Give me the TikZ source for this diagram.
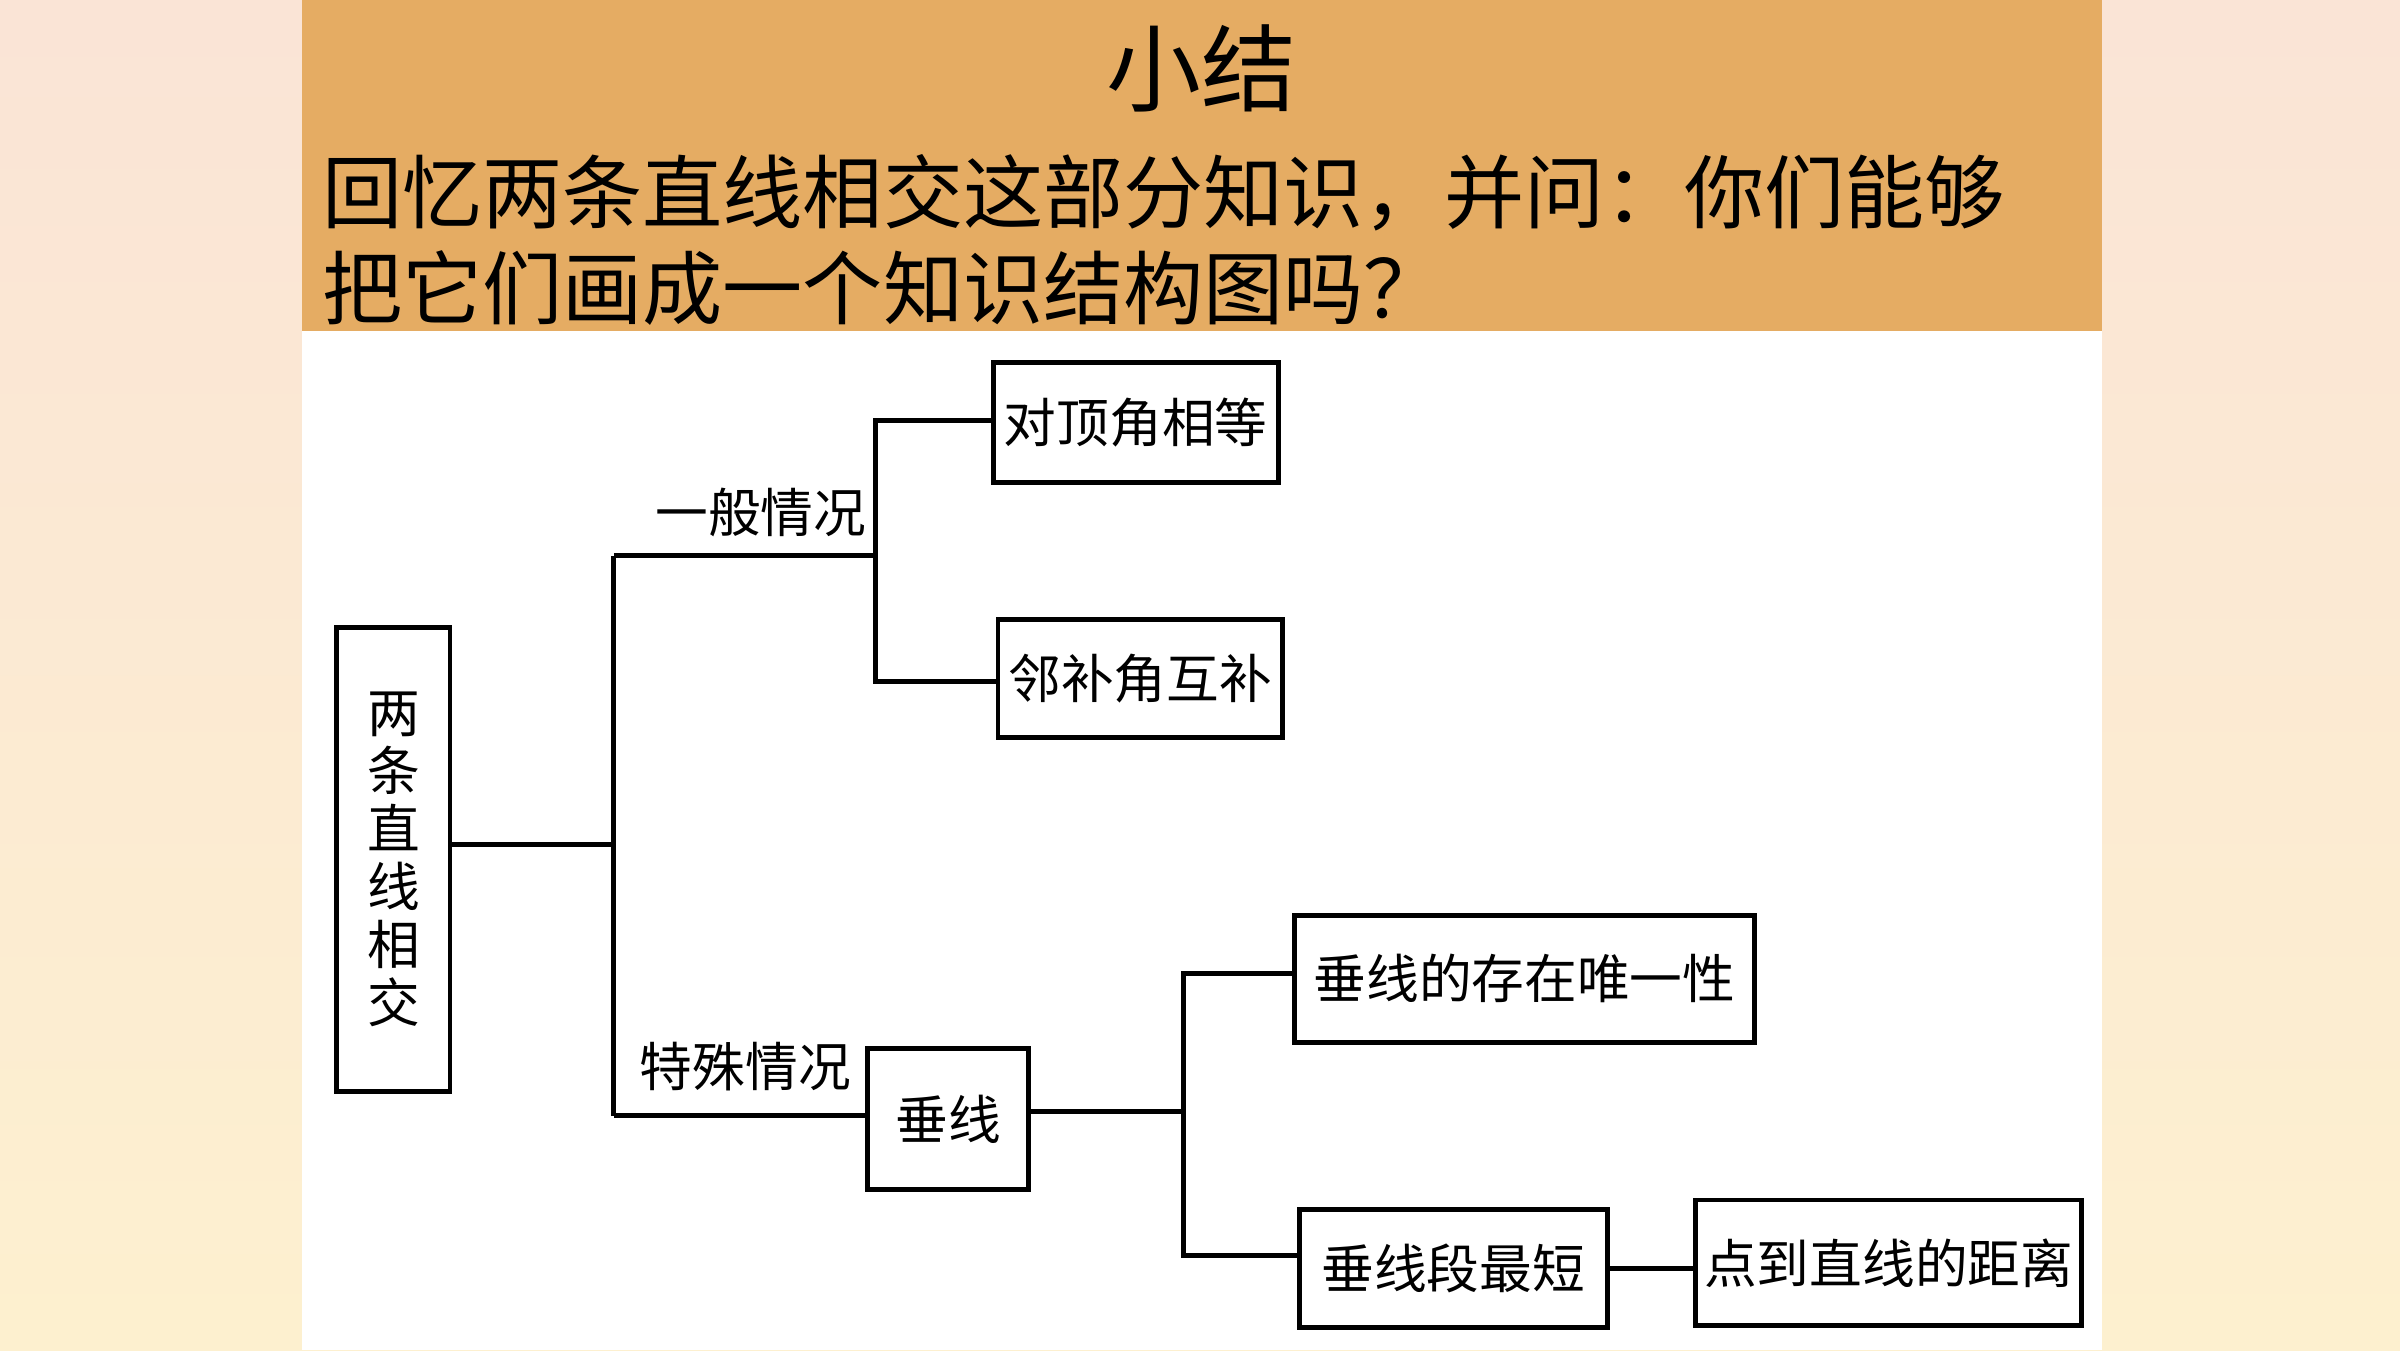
\documentclass[tikz,border=0pt]{standalone}
\usepackage{fontspec}
\setmainfont{Noto Sans CJK SC}
\newcommand\upx{0.0153061cm}
\definecolor{bgtop}{HTML}{FAE4D6}
\definecolor{bgbot}{HTML}{FDF0CF}
\definecolor{hdr}{HTML}{E5AC63}
\begin{document}
\begin{tikzpicture}[x=0.0153061cm, y=-0.0153061cm,
  box/.style={draw, line width=1.4pt, inner sep=0pt, align=center,
    font=\fontsize{15pt}{16.5pt}\selectfont},
  lbl/.style={inner sep=0pt, font=\fontsize{15pt}{18pt}\selectfont},
  conn/.style={line width=1.4pt}]
\useasboundingbox (0,0) rectangle (1568,882);
\shade[top color=bgtop, bottom color=bgbot] (0,0) rectangle (1568,882);
\fill[hdr] (197,0) rectangle (1373,216);
\fill[white] (197,216) rectangle (1373,882);
% header text
\node[inner sep=0pt, font=\fontsize{27pt}{30pt}\selectfont] (title) at (785,45) {小结};
\node[anchor=west, inner sep=0pt, font=\fontsize{22.8pt}{26pt}\selectfont] (q1) at (210,126) {回忆两条直线相交这部分知识，并问：你们能够};
\node[anchor=west, inner sep=0pt, font=\fontsize{22.8pt}{26pt}\selectfont] (q2) at (210,188) {把它们画成一个知识结构图吗？};
% boxes
\node[box, minimum width=74*\upx, minimum height=303*\upx] (root) at (257,561.5) {两\\条\\直\\线\\相\\交};
\node[box, minimum width=186*\upx, minimum height=78*\upx] (A) at (742,276) {对顶角相等};
\node[box, minimum width=186*\upx, minimum height=77*\upx] (B) at (745,443.5) {邻补角互补};
\node[box, minimum width=105*\upx, minimum height=92*\upx] (C) at (619.5,731) {垂线};
\node[box, minimum width=300*\upx, minimum height=83*\upx] (D) at (996,639.5) {垂线的存在唯一性};
\node[box, minimum width=201*\upx, minimum height=77*\upx] (E) at (949.5,828.5) {垂线段最短};
\node[box, minimum width=252*\upx, minimum height=82*\upx] (F) at (1234,825) {点到直线的距离};
% branch labels
\node[lbl] (gen) at (497,335) {一般情况};
\node[lbl] (spec) at (487,697) {特殊情况};
% junctions
\coordinate (j1) at (401,552);
\coordinate (jt) at (401,363);
\coordinate (jb) at (401,729);
\coordinate (k1) at (572,363);
\coordinate (ka) at (572,275);
\coordinate (kb) at (572,445);
\coordinate (mc) at (773,726);
\coordinate (m1) at (773,636);
\coordinate (m2) at (773,820);
\coordinate (ef) at (1080,829);
% connectors
\draw[conn] (root.east |- j1) -- (j1);
\draw[conn] (jt) -- (jb);
\draw[conn] (jt) -- (k1);
\draw[conn] (jb) -- (C.west |- jb);
\draw[conn] (ka -| A.west) -- (ka) -- (kb) -- (kb -| B.west);
\draw[conn] (C.east |- mc) -- (mc);
\draw[conn] (m1 -| D.west) -- (m1) -- (m2) -- (m2 -| E.west);
\draw[conn] (E.east |- ef) -- (F.west |- ef);
\end{tikzpicture}
\end{document}
